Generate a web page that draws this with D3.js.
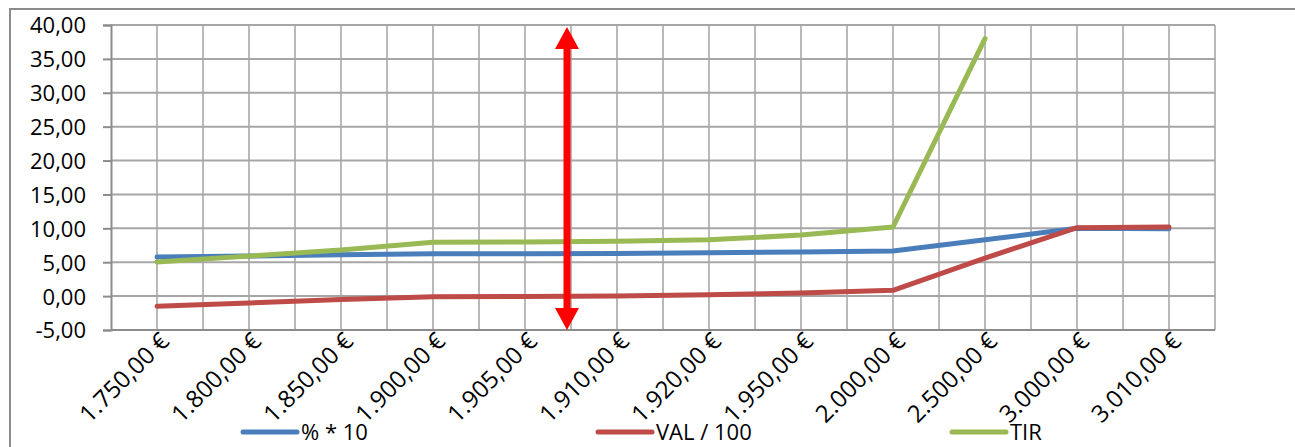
<!DOCTYPE html>
<html>
<head>
<meta charset="utf-8">
<script src="https://cdn.jsdelivr.net/npm/d3@7"></script>
<style>
  body { margin: 0; background: #fff; }
  svg text { font-family: "Open Sans", Lato, sans-serif; fill: #000; }
</style>
</head>
<body>
<div id="chart"></div>
<script>
var W = 1295, H = 447;
var margin = { top: 25, right: 80, bottom: 117, left: 111 },
    width = W - margin.left - margin.right,
    height = H - margin.top - margin.bottom;

// data
var categories = ["1.750,00 €", "1.800,00 €", "1.850,00 €", "1.900,00 €", "1.905,00 €", "1.910,00 €",
                  "1.920,00 €", "1.950,00 €", "2.000,00 €", "2.500,00 €", "3.000,00 €", "3.010,00 €"];
var pct10  = [5.76, 5.9, 6.1, 6.25, 6.25, 6.3, 6.4, 6.5, 6.65, 8.3, 10.0, 9.95];
var val100 = [-1.5, -1.0, -0.5, -0.1, -0.05, 0.0, 0.2, 0.45, 0.85, 5.6, 10.1, 10.2];
var tir    = [5.05, 5.9, 6.8, 7.95, 8.0, 8.1, 8.3, 9.0, 10.2, 38.0, null, null];
var yTicks = [-5, 0, 5, 10, 15, 20, 25, 30, 35, 40];
var seriesNames = ["% * 10", "VAL / 100", "TIR"];
var seriesColors = ["#4a7ebb", "#be4b48", "#98b954"];

var series = [pct10, val100, tir];

var svg = d3.select("#chart").append("svg")
    .attr("width", W).attr("height", H);

// outer chart border
svg.append("rect")
    .attr("x", 10).attr("y", 9)
    .attr("width", W + 20).attr("height", H + 20)
    .attr("fill", "none").attr("stroke", "#8c8c8c").attr("stroke-width", 2);

var g = svg.append("g").attr("transform", "translate(" + margin.left + "," + margin.top + ")");

var x = d3.scaleBand().domain(categories).range([0, width]);
var xc = function(c) { return x(c) + x.bandwidth() / 2; };
var y = d3.scaleLinear().domain([-5, 40]).range([height, 0]);

// vertical grid (category bounds and centers)
var vLines = [];
categories.forEach(function(c) { vLines.push(x(c)); vLines.push(xc(c)); });
vLines.push(width);
g.append("g").selectAll("line").data(vLines.slice(1)).enter().append("line")
    .attr("x1", d => d).attr("x2", d => d)
    .attr("y1", 0).attr("y2", height)
    .attr("stroke", "#b9b9b9").attr("stroke-width", 2);

// horizontal grid
g.append("g").selectAll("line").data(yTicks).enter().append("line")
    .attr("x1", 0).attr("x2", width)
    .attr("y1", d => y(d)).attr("y2", d => y(d))
    .attr("stroke", "#a6a6a6").attr("stroke-width", 2);

// y axis
var yAxis = d3.axisLeft(y).tickValues(yTicks).tickSize(8).tickPadding(17)
    .tickFormat(d => d3.format(".2f")(d).replace(".", ",").replace("−", "-"));
var ya = g.append("g").call(yAxis);
ya.select(".domain").attr("stroke", "#8c8c8c").attr("stroke-width", 2);
ya.selectAll(".tick line").attr("stroke", "#8c8c8c").attr("stroke-width", 2);
ya.selectAll("text").style("font-size", "22px").attr("dy", "0.36em");

// x axis
var xa = g.append("g").attr("transform", "translate(0," + height + ")")
    .call(d3.axisBottom(x).tickSize(0).tickPadding(0));
xa.select(".domain").remove();
g.append("line").attr("x1", 0).attr("x2", width).attr("y1", height).attr("y2", height)
    .attr("stroke", "#8c8c8c").attr("stroke-width", 2);
xa.selectAll(".tick text")
    .style("font-size", "24px")
    .attr("text-anchor", "end")
    .attr("dy", "0.75em")
    .attr("transform", "translate(1,0) rotate(-45)")
    .attr("y", 0).attr("x", 0);

// lines
var line = d3.line()
    .defined(d => d.v != null)
    .x(d => xc(d.c)).y(d => y(d.v));
series.forEach(function(s, i) {
    var pts = categories.map((c, j) => ({ c: c, v: s[j] }));
    g.append("path").datum(pts)
        .attr("d", line)
        .attr("fill", "none")
        .attr("stroke", seriesColors[i])
        .attr("stroke-width", 5)
        .attr("stroke-linecap", "round")
        .attr("stroke-linejoin", "round");
});

// red double arrow annotation
var ax = x("1.910,00 €") - 4;
var aTop = 2, aBot = height;
var hw = 12, hl = 22, sw = 3.5;
g.append("path")
    .attr("d", "M" + ax + "," + aTop +
        " L" + (ax + hw) + "," + (aTop + hl) +
        " L" + (ax + sw) + "," + (aTop + hl) +
        " L" + (ax + sw) + "," + (aBot - hl) +
        " L" + (ax + hw) + "," + (aBot - hl) +
        " L" + ax + "," + aBot +
        " L" + (ax - hw) + "," + (aBot - hl) +
        " L" + (ax - sw) + "," + (aBot - hl) +
        " L" + (ax - sw) + "," + (aTop + hl) +
        " L" + (ax - hw) + "," + (aTop + hl) + " Z")
    .attr("fill", "#ff0000");

// legend
var legX = [243, 598, 952];
var leg = svg.append("g");
seriesNames.forEach(function(n, i) {
    leg.append("line")
        .attr("x1", legX[i]).attr("x2", legX[i] + 54)
        .attr("y1", 432).attr("y2", 432)
        .attr("stroke", seriesColors[i]).attr("stroke-width", 5)
        .attr("stroke-linecap", "round");
    leg.append("text")
        .attr("x", legX[i] + 58).attr("y", 432).attr("dy", "0.36em")
        .style("font-size", "22px")
        .text(n);
});
</script>
</body>
</html>
